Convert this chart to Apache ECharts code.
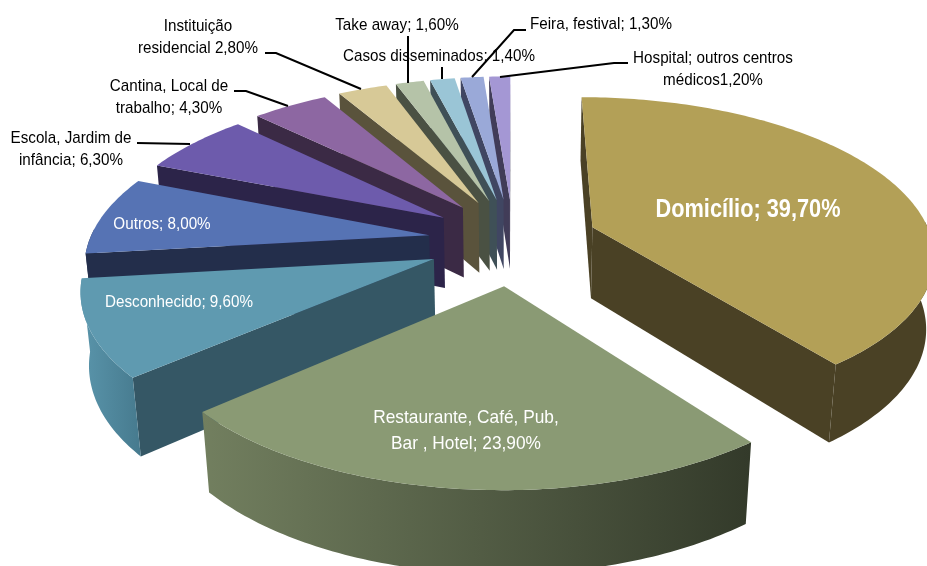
<!DOCTYPE html>
<html>
<head>
<meta charset="utf-8">
<title>Locais</title>
<style>
html, body { margin: 0; padding: 0; background: #fff; }
#container { width: 927px; height: 566px; }
</style>
<script src="https://cdn.jsdelivr.net/npm/echarts@6/dist/echarts.min.js"></script>
</head>
<body>
<div id="container"></div>
<script>
// chart data, clockwise from 12 o'clock
var categories = ['Domicílio', 'Restaurante, Café, Pub, Bar , Hotel', 'Desconhecido', 'Outros',
	'Escola, Jardim de infância', 'Cantina, Local de trabalho', 'Instituição residencial',
	'Take away', 'Casos disseminados', 'Feira, festival', 'Hospital; outros centros médicos'];
var values = [39.7, 23.9, 9.6, 8.0, 6.3, 4.3, 2.8, 1.6, 1.4, 1.3, 1.2];
var sliceLabels = ['Domicílio; 39,70%', 'Restaurante, Café, Pub,\nBar , Hotel; 23,90%', 'Desconhecido; 9,60%',
	'Outros; 8,00%', 'Escola, Jardim de\ninfância; 6,30%', 'Cantina, Local de\ntrabalho; 4,30%',
	'Instituição\nresidencial 2,80%', 'Take away; 1,60%', 'Casos disseminados; 1,40%',
	'Feira, festival; 1,30%', 'Hospital; outros centros\nmédicos1,20%'];

// colours: top face, radial wall, rim wall (left, right)
var topColors = ['#B3A057', '#8A9A74', '#5F9AB0', '#5673B4', '#6D5BAC', '#8D67A2', '#D7C997', '#B5C3A8', '#9AC5D6', '#9AA9D8', '#A497D4'];
var wallColors = ['#4A4125', '#353C2B', '#355765', '#232E4B', '#2C2449', '#3B2A45', '#5A533C', '#4A5143', '#3F5057', '#404662', '#413C58'];
var rimColors = [['#4A4125', '#4A4125'], ['#727F5F', '#333A2A'], ['#5A95AB', '#467A8E'], ['#232E4B', '#232E4B'], ['#2C2449', '#2C2449'],
	['#3B2A45', '#3B2A45'], ['#5A533C', '#5A533C'], ['#4A5143', '#4A5143'], ['#3F5057', '#3F5057'], ['#404662', '#404662'], ['#413C58', '#413C58']];

// perspective of the 3D pie
var CX = 513, CY = 241;
var SCALE_X = 340, SCALE_Y = 155;
var PERSP = 0.16; // depth shrink on the ground plane
var THICK = 73, THICK_PERSP = 0.019; // pie thickness
var EXPLODE_X = 0.25, EXPLODE_Y = 0.28;

var total = 0;
for(var t = 0; t < values.length; t++) {
	total += values[t];
}

// z = 0 top face, z = 1 bottom face
function project(x, y, z) {
	var w = 1 + PERSP * y + THICK_PERSP * z;
	return [CX + SCALE_X * x / w, CY + (-SCALE_Y * y + THICK * z) / w];
}

function renderSlice(params, api) {
	var i = api.value(0);
	var start = 0;
	for(var k = 0; k < i; k++) {
		start += values[k];
	}
	var a0 = start / total * 2 * Math.PI;
	var a1 = (start + api.value(1)) / total * 2 * Math.PI;
	var mid = (a0 + a1) / 2;
	var ox = EXPLODE_X * Math.sin(mid);
	var oy = EXPLODE_Y * Math.cos(mid);
	var steps = Math.ceil((a1 - a0) * 60) + 1;

	var rimTop = [], wallTop = [], wallBottom = [];
	for(var s = 0; s <= steps; s++) {
		var a = a0 + (a1 - a0) * s / steps;
		rimTop.push(project(ox + Math.sin(a), oy + Math.cos(a), 0));
		// only the rim that faces the viewer gets a wall
		if(Math.cos(a) < 0.05) {
			wallTop.push(rimTop[s]);
			wallBottom.push(project(ox + Math.sin(a), oy + Math.cos(a), 1));
		}
	}
	var apexTop = project(ox, oy, 0);
	var apexBottom = project(ox, oy, 1);
	var order = (values.length - i) * 10;

	function poly(points, fill, z2) {
		return { type: 'polygon', z2: z2, silent: true, shape: { points: points }, style: { fill: fill } };
	}
	var children = [];
	var first = rimTop[0], last = rimTop[steps];
	if(first[0] < apexTop[0]) {
		children.push(poly([apexTop, first, project(ox + Math.sin(a0), oy + Math.cos(a0), 1), apexBottom], wallColors[i], order + 1));
	}
	if(last[0] > apexTop[0]) {
		children.push(poly([apexTop, last, project(ox + Math.sin(a1), oy + Math.cos(a1), 1), apexBottom], wallColors[i], order + 1));
	}
	if(wallTop.length > 1) {
		children.push(poly(wallTop.concat(wallBottom.reverse()), new echarts.graphic.LinearGradient(0, 0, 1, 0, [
			{ offset: 0, color: rimColors[i][0] },
			{ offset: 1, color: rimColors[i][1] }
		]), order + 2));
	}
	children.push(poly([apexTop].concat(rimTop), topColors[i], order + 3));
	return { type: 'group', children: children };
}

// text helpers
var FONT = '"Liberation Sans", Arial, sans-serif';

function labelText(index, x, y, fill, size, squeeze, weight, lineHeight) {
	return {
		type: 'text', x: x, y: y, z: 10, silent: true, scaleX: squeeze,
		style: {
			text: sliceLabels[index], fill: fill, font: (weight || 'normal') + ' ' + size + 'px ' + FONT,
			align: 'center', verticalAlign: 'middle', lineHeight: lineHeight || 22
		}
	};
}

function leader(points) {
	return {
		type: 'polyline', z: 9, silent: true,
		shape: { points: points },
		style: { stroke: '#000', lineWidth: 2, fill: null }
	};
}

var myChart = echarts.init(document.getElementById('container'), null, { renderer: 'canvas' });
myChart.setOption({
	animation: false,
	backgroundColor: '#fff',
	series: [{
		type: 'custom',
		coordinateSystem: 'none',
		clip: false,
		silent: true,
		renderItem: renderSlice,
		data: categories.map(function(name, i) {
			return { name: name, value: [i, values[i]] };
		})
	}],
	graphic: [
		labelText(0, 748, 210, '#fff', 25, 0.87, 'bold'),
		labelText(1, 466, 431, '#fff', 19, 0.91, 'normal', 26),
		labelText(2, 179, 302, '#fff', 17, 0.895),
		labelText(3, 162, 224, '#fff', 17, 0.895),
		labelText(4, 71, 149, '#000', 17, 0.895),
		labelText(5, 169, 97, '#000', 17, 0.895),
		labelText(6, 198, 37, '#000', 17, 0.895),
		labelText(7, 397, 25, '#000', 17, 0.895),
		labelText(8, 439, 56, '#000', 17, 0.895),
		labelText(9, 601, 24, '#000', 17, 0.895),
		labelText(10, 713, 69, '#000', 17, 0.895),
		leader([[137, 143], [190, 144]]),
		leader([[234, 91], [246, 91], [288, 106]]),
		leader([[265, 53], [276, 53], [361, 89]]),
		leader([[408, 36], [408, 83]]),
		leader([[442, 67], [442, 79]]),
		leader([[526, 30], [514, 30], [472, 77]]),
		leader([[628, 63], [614, 63], [500, 77]])
	]
});
</script>
</body>
</html>
